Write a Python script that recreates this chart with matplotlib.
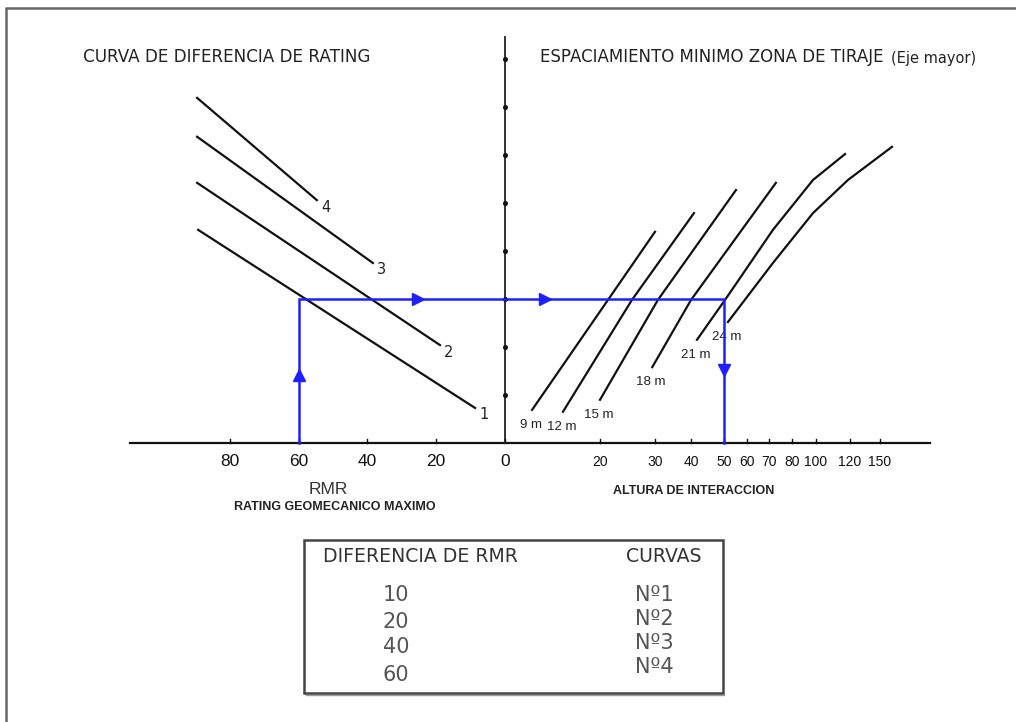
import numpy as np
import matplotlib
matplotlib.use("Agg")
import matplotlib.pyplot as plt
from matplotlib.patches import Rectangle

# ---------------- data ----------------
RMR_TICKS = [80, 60, 40, 20, 0]
ALT_TICKS = [20, 30, 40, 50, 60, 70, 80, 100, 120, 150]

# rating-difference curves (left quadrant): RMR value vs. level on the vertical axis
RATING_CURVES = ["1", "2", "3", "4"]
RATING_RMR = [[89.2, 8.7], [89.5, 18.9], [89.5, 38.4], [89.5, 54.7]]
RATING_LEVEL = [[4.44, 0.73], [5.42, 2.04], [6.38, 3.75], [7.19, 5.06]]

# minimum spacing curves (right quadrant): interaction height vs. level
SPACING_LABELS = ["9 m", "12 m", "15 m", "18 m", "21 m", "24 m"]
SPACING_ALT = [
    [5.7, 30.0],
    [12.2, 25.8, 40.9],
    [20.0, 30.8, 55.2],
    [29.5, 40.0, 73.0],
    [41.8, 51.3, 71.7, 97.5, 117.1],
    [51.7, 71.7, 97.5, 118.8, 162.0],
]
SPACING_LEVEL = [
    [0.69, 4.40],
    [0.65, 2.98, 4.79],
    [0.90, 2.98, 5.27],
    [1.58, 2.98, 5.42],
    [2.15, 3.04, 4.44, 5.48, 6.02],
    [2.52, 3.75, 4.79, 5.48, 6.17],
]

# worked example (blue path)
EX_RMR = 60
EX_LEVEL = 3.0
EX_ALT = 50

# table
TABLE_DIFF = ["10", "20", "40", "60"]
TABLE_CURVES = ["Nº1", "Nº2", "Nº3", "Nº4"]

# ---------------- nomogram scales (pixel frame) ----------------
X0, RMR_PX = 505.0, 3.44
ALT_SCALE_V = [0, 20, 30, 40, 50, 60, 70, 80, 100, 120, 150, 200]
ALT_SCALE_P = [505, 600, 655, 691, 724, 747, 769, 792, 816, 850, 880, 930]
Y0, LEVEL_PX = 443.0, 48.0


def rmr_x(v):
    return X0 - RMR_PX * np.asarray(v, dtype=float)


def alt_x(v):
    return np.interp(np.asarray(v, dtype=float), ALT_SCALE_V, ALT_SCALE_P)


def lvl_y(v):
    return Y0 - LEVEL_PX * np.asarray(v, dtype=float)


fig = plt.figure(figsize=(10.16, 7.22), dpi=100)
ax = fig.add_axes([0, 0, 1, 1])
ax.set_xlim(0, 1016)
ax.set_ylim(722, 0)
ax.axis("off")

CAD = ["DejaVu Sans"]
ARIAL = ["Liberation Sans", "DejaVu Sans"]
BLUE = "#1f1fff"

# outer frame (cut at right / bottom)
ax.plot([5, 1016], [8, 8], color="#666666", lw=1.8, solid_capstyle="butt")
ax.plot([6, 6], [8, 722], color="#666666", lw=1.8, solid_capstyle="butt")

# axes of the nomogram
ax.plot([130, 930], [Y0, Y0], color="#111111", lw=1.6, zorder=2)
ax.plot([X0, X0], [37, Y0], color="#222222", lw=1.3, zorder=2)
for k in range(1, 9):
    ax.plot([X0], [lvl_y(k)], marker="o", ms=2.6, color="#111111", lw=0)

# ticks and labels on horizontal axis
for v in RMR_TICKS:
    x = rmr_x(v)
    ax.plot([x, x], [Y0, Y0 - 4], color="#111111", lw=1.0)
    ax.text(x, 462, str(v), ha="center", va="center", fontsize=12.5,
            family=ARIAL, color="#111111")
for v in ALT_TICKS:
    x = alt_x(v)
    ax.plot([x, x], [Y0, Y0 - 4], color="#111111", lw=1.0)
    ax.text(x, 462, str(v), ha="center", va="center", fontsize=10,
            family=ARIAL, color="#111111")

ax.text(328, 490, "RMR", ha="center", va="center", fontsize=12.5,
        family=ARIAL, color="#333333")
ax.text(335, 507, "RATING GEOMECANICO MAXIMO", ha="center", va="center",
        fontsize=9, family=ARIAL, fontweight="bold", color="#222222")
ax.text(694, 491, "ALTURA DE INTERACCION", ha="center", va="center",
        fontsize=9, family=ARIAL, fontweight="bold", color="#222222")

# titles
ax.text(83, 57, "CURVA DE DIFERENCIA DE RATING", ha="left", va="center",
        fontsize=12.1, family=CAD, color="#222222")
ax.text(540, 57, "ESPACIAMIENTO MINIMO ZONA DE TIRAJE", ha="left",
        va="center", fontsize=12.0, family=CAD, color="#222222")
ax.text(891, 58, "(Eje mayor)", ha="left", va="center", fontsize=10.5,
        family=CAD, color="#222222")

# rating difference curves
for lab, rr, ll in zip(RATING_CURVES, RATING_RMR, RATING_LEVEL):
    xs, ys = rmr_x(rr), lvl_y(ll)
    ax.plot(xs, ys, color="#111111", lw=1.6, zorder=3)
    ax.text(xs[-1] + 9, ys[-1] + 7, lab, ha="center", va="center",
            fontsize=10.5, family=CAD, color="#222222")

# spacing curves
for lab, aa, ll in zip(SPACING_LABELS, SPACING_ALT, SPACING_LEVEL):
    xs, ys = alt_x(aa), lvl_y(ll)
    ax.plot(xs, ys, color="#111111", lw=1.6, zorder=3)
    ax.text(xs[0] - 1, ys[0] + 15, lab, ha="center", va="center",
            fontsize=9.5, family=ARIAL, color="#222222")

# worked example path
px_in, px_out, py = rmr_x(EX_RMR), alt_x(EX_ALT), lvl_y(EX_LEVEL)
ax.plot([px_in, px_in, px_out, px_out], [Y0, py, py, Y0], color=BLUE,
        lw=1.8, zorder=5, solid_joinstyle="miter")
ax.plot([px_in], [375], marker="^", ms=8, color=BLUE, zorder=6, lw=0)
ax.plot([418, 545], [py, py], marker=">", ms=8, color=BLUE, zorder=6, lw=0)
ax.plot([px_out], [370], marker="v", ms=8, color=BLUE, zorder=6, lw=0)

# table
ax.add_patch(Rectangle((304, 540), 419, 153, fill=False, ec="#444444",
                       lw=1.8, zorder=4))
ax.plot([306, 724], [694.5, 694.5], color="#999999", lw=1.0)
ax.text(420, 557, "DIFERENCIA DE RMR", ha="center", va="center",
        fontsize=13.6, family=CAD, color="#333333")
ax.text(664, 557, "CURVAS", ha="center", va="center", fontsize=13.6,
        family=CAD, color="#333333")
for txt, y in zip(TABLE_DIFF, [595, 622, 647, 675]):
    ax.text(396, y, txt, ha="center", va="center", fontsize=15,
            family=CAD, color="#555555")
for txt, y in zip(TABLE_CURVES, [595, 619, 643, 667]):
    ax.text(654, y, txt, ha="center", va="center", fontsize=15,
            family=CAD, color="#555555")

fig.savefig("out.png", dpi=100)
